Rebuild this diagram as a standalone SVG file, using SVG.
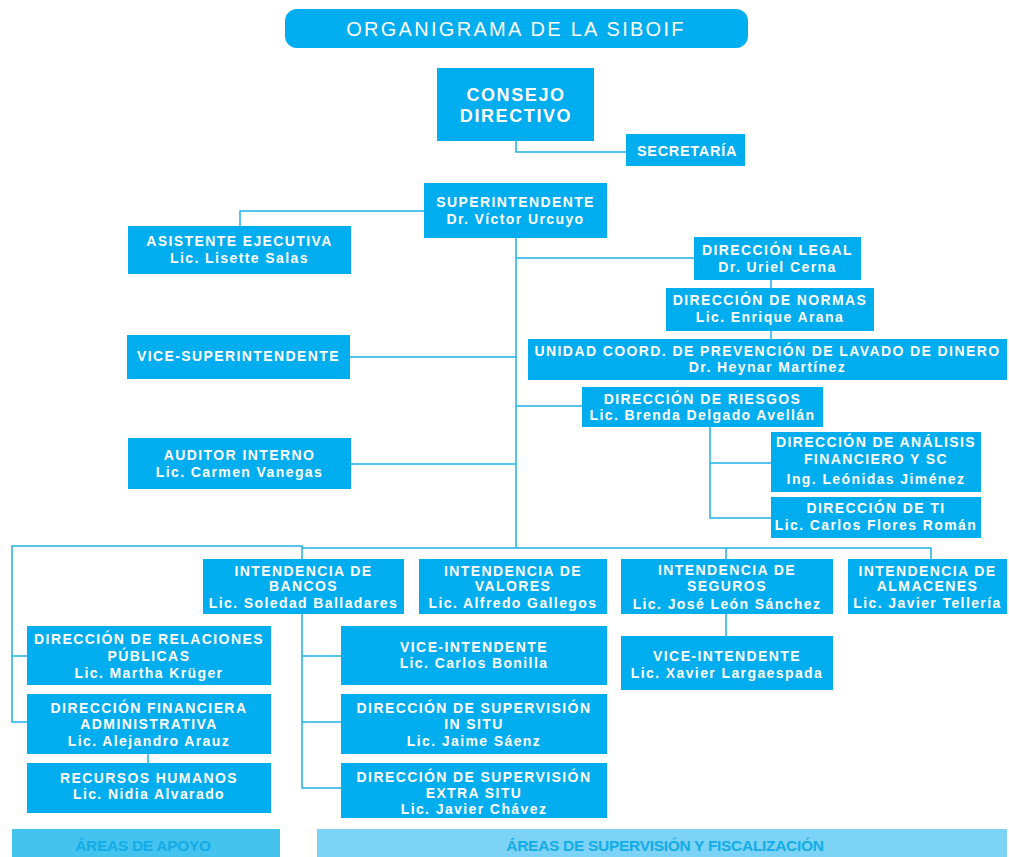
<svg xmlns="http://www.w3.org/2000/svg" width="1009" height="857" viewBox="0 0 1009 857">
<style>
.box{fill:#00aeef;}
.t{font-family:"Liberation Sans",Arial,sans-serif;font-weight:bold;font-size:14px;fill:#ffffff;text-anchor:middle;letter-spacing:1.4px;}
.big{font-size:18px;letter-spacing:1.6px;}
.title{font-family:"Liberation Sans",Arial,sans-serif;font-size:20px;fill:#ffffff;text-anchor:middle;letter-spacing:2.3px;}
.ban{font-family:"Liberation Sans Narrow","Liberation Sans",Arial,sans-serif;font-weight:bold;font-size:15.5px;fill:#12ace6;text-anchor:middle;letter-spacing:-0.3px;}
.c{fill:none;stroke:#1cb0e8;stroke-width:1.5;}
</style>
<rect width="1009" height="857" fill="#ffffff"/>
<g id="connectors">
<path class="c" d="M516,141 V152 H626"/>
<path class="c" d="M516,238 V548"/>
<path class="c" d="M424,211 H240 V226"/>
<path class="c" d="M516,258 H694"/>
<path class="c" d="M771,280 V288"/>
<path class="c" d="M771,331 V339"/>
<path class="c" d="M350,357 H516"/>
<path class="c" d="M516,406 H582"/>
<path class="c" d="M351,464 H516"/>
<path class="c" d="M710,427 V518 H771"/>
<path class="c" d="M710,463 H771"/>
<path class="c" d="M27,722 H12 V546 H302 V559"/>
<path class="c" d="M12,656 H27"/>
<path class="c" d="M302,548 H931 V559"/>
<path class="c" d="M726,548 V559"/>
<path class="c" d="M726,614 V636"/>
<path class="c" d="M148,754 V763"/>
<path class="c" d="M302,614 V788 H341"/>
<path class="c" d="M302,656 H341"/>
<path class="c" d="M302,722 H341"/>
</g>
<g id="title">
<rect x="285" y="9" width="463" height="39" rx="12" fill="#00aeef"/>
<text class="title" x="516" y="36">ORGANIGRAMA DE LA SIBOIF</text>
</g>
<g id="consejo">
<rect class="box" x="437" y="68" width="157" height="73"/>
<text class="t big" x="516" y="101">CONSEJO</text>
<text class="t big" x="516" y="122">DIRECTIVO</text>
</g>
<g id="secretaria">
<rect class="box" x="626" y="134" width="119" height="32"/>
<text class="t" x="687" y="156" style="font-size:14.5px;letter-spacing:0.7px">SECRETARÍA</text>
</g>
<g id="superintendente">
<rect class="box" x="424" y="183" width="183" height="55"/>
<text class="t" x="515.5" y="207">SUPERINTENDENTE</text>
<text class="t" x="515.5" y="224">Dr. Víctor Urcuyo</text>
</g>
<g id="asistente">
<rect class="box" x="128" y="226" width="223" height="48"/>
<text class="t" x="239.5" y="246">ASISTENTE EJECUTIVA</text>
<text class="t" x="239.5" y="263">Lic. Lisette Salas</text>
</g>
<g id="legal">
<rect class="box" x="694" y="237" width="167" height="43"/>
<text class="t" x="777.5" y="255">DIRECCIÓN LEGAL</text>
<text class="t" x="777.5" y="272">Dr. Uriel Cerna</text>
</g>
<g id="normas">
<rect class="box" x="666" y="288" width="208" height="43"/>
<text class="t" x="770" y="305">DIRECCIÓN DE NORMAS</text>
<text class="t" x="770" y="322">Lic. Enrique Arana</text>
</g>
<g id="unidad">
<rect class="box" x="528" y="339" width="479" height="41"/>
<text class="t" x="767.5" y="356">UNIDAD COORD. DE PREVENCIÓN DE LAVADO DE DINERO</text>
<text class="t" x="767.5" y="372">Dr. Heynar Martínez</text>
</g>
<g id="vicesuper">
<rect class="box" x="127" y="335" width="223" height="44"/>
<text class="t" x="238.5" y="361">VICE-SUPERINTENDENTE</text>
</g>
<g id="riesgos">
<rect class="box" x="582" y="387" width="241" height="40"/>
<text class="t" x="702.5" y="404">DIRECCIÓN DE RIESGOS</text>
<text class="t" x="702.5" y="420">Lic. Brenda Delgado Avellán</text>
</g>
<g id="auditor">
<rect class="box" x="128" y="438" width="223" height="51"/>
<text class="t" x="239.5" y="460">AUDITOR INTERNO</text>
<text class="t" x="239.5" y="477">Lic. Carmen Vanegas</text>
</g>
<g id="analisis">
<rect class="box" x="771" y="432" width="210" height="60"/>
<text class="t" x="876" y="447">DIRECCIÓN DE ANÁLISIS</text>
<text class="t" x="876" y="464">FINANCIERO Y SC</text>
<text class="t" x="876" y="484">Ing. Leónidas Jiménez</text>
</g>
<g id="ti">
<rect class="box" x="771" y="497" width="210" height="41"/>
<text class="t" x="876" y="513">DIRECCIÓN DE TI</text>
<text class="t" x="876" y="530">Lic. Carlos Flores Román</text>
</g>
<g id="bancos">
<rect class="box" x="203" y="559" width="201" height="55"/>
<text class="t" x="303.5" y="576">INTENDENCIA DE</text>
<text class="t" x="303.5" y="591">BANCOS</text>
<text class="t" x="303.5" y="608">Lic. Soledad Balladares</text>
</g>
<g id="valores">
<rect class="box" x="419" y="559" width="188" height="55"/>
<text class="t" x="513" y="576">INTENDENCIA DE</text>
<text class="t" x="513" y="591">VALORES</text>
<text class="t" x="513" y="608">Lic. Alfredo Gallegos</text>
</g>
<g id="seguros">
<rect class="box" x="621" y="559" width="212" height="55"/>
<text class="t" x="727" y="575">INTENDENCIA DE</text>
<text class="t" x="727" y="591">SEGUROS</text>
<text class="t" x="727" y="609">Lic. José León Sánchez</text>
</g>
<g id="almacenes">
<rect class="box" x="848" y="559" width="159" height="55"/>
<text class="t" x="927.5" y="576">INTENDENCIA DE</text>
<text class="t" x="927.5" y="591">ALMACENES</text>
<text class="t" x="927.5" y="608">Lic. Javier Tellería</text>
</g>
<g id="vice-seguros">
<rect class="box" x="621" y="636" width="212" height="54"/>
<text class="t" x="727" y="661">VICE-INTENDENTE</text>
<text class="t" x="727" y="678">Lic. Xavier Largaespada</text>
</g>
<g id="relaciones">
<rect class="box" x="27" y="626" width="244" height="59"/>
<text class="t" x="149" y="644">DIRECCIÓN DE RELACIONES</text>
<text class="t" x="149" y="661">PÚBLICAS</text>
<text class="t" x="149" y="678">Lic. Martha Krüger</text>
</g>
<g id="financiera">
<rect class="box" x="27" y="694" width="244" height="60"/>
<text class="t" x="149" y="713">DIRECCIÓN FINANCIERA</text>
<text class="t" x="149" y="729">ADMINISTRATIVA</text>
<text class="t" x="149" y="746">Lic. Alejandro Arauz</text>
</g>
<g id="rrhh">
<rect class="box" x="27" y="763" width="244" height="50"/>
<text class="t" x="149" y="783">RECURSOS HUMANOS</text>
<text class="t" x="149" y="799">Lic. Nidia Alvarado</text>
</g>
<g id="vice-bancos">
<rect class="box" x="341" y="626" width="266" height="59"/>
<text class="t" x="474" y="652">VICE-INTENDENTE</text>
<text class="t" x="474" y="668">Lic. Carlos Bonilla</text>
</g>
<g id="insitu">
<rect class="box" x="341" y="694" width="266" height="60"/>
<text class="t" x="474" y="713">DIRECCIÓN DE SUPERVISIÓN</text>
<text class="t" x="474" y="729">IN SITU</text>
<text class="t" x="474" y="746">Lic. Jaime Sáenz</text>
</g>
<g id="extrasitu">
<rect class="box" x="341" y="763" width="266" height="55"/>
<text class="t" x="474" y="782">DIRECCIÓN DE SUPERVISIÓN</text>
<text class="t" x="474" y="798">EXTRA SITU</text>
<text class="t" x="474" y="814">Lic. Javier Chávez</text>
</g>
<g id="banner-apoyo">
<rect x="12" y="829" width="268" height="28" fill="#45c3ef"/>
<text class="ban" x="143" y="851">ÁREAS DE APOYO</text>
</g>
<g id="banner-supervision">
<rect x="317" y="829" width="690" height="28" fill="#7dd3f5"/>
<text class="ban" x="665" y="851">ÁREAS DE SUPERVISIÓN Y FISCALIZACIÓN</text>
</g>
</svg>
